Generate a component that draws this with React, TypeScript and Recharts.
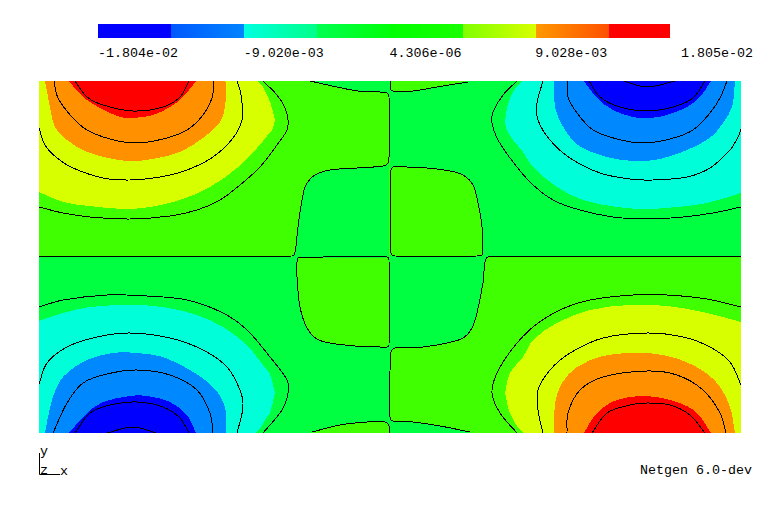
import React from "react";
import { ComposedChart, Area, Line, XAxis, YAxis } from "recharts";

type Band = number[][];

// colour bar
const barEdges = [-0.01804, -0.013521, -0.009002, -0.004483, 0.000036, 0.004556, 0.009075, 0.013594, 0.01737];
const barStart = ["#0000ff", "#0058ff", "#00ffe0", "#00ff50", "#00ff00", "#80ff00", "#ff9800", "#ff0000"];
const barEnd = ["#0000ff", "#0084ff", "#00ff88", "#00ff08", "#18ff00", "#d8ff00", "#ff5000", "#ff0000"];
const tickValues = [-0.01804, -0.00902, 0.000004306, 0.009028, 0.01805];
const tickLabels = ["-1.804e-02", "-9.020e-03", "4.306e-06", "9.028e-03", "1.805e-02"];

const LIME = "#40ff00";
const SPRING = "#00ff40";
const YELLOW = "#d8ff00";
const ORANGE = "#ff9000";
const RED = "#ff0000";
const CYAN = "#00ffd8";
const BLUE = "#0088ff";
const DEEP = "#0000ff";

// bands: [x, low, high]
const wholeField: Band = [[-351, -176, 176], [351, -176, 176]];
const limeTL: Band = [[-351, 0, 176], [0, 0, 176]];
const limeBR: Band = [[0, -176, 0], [351, -176, 0]];

const springSquareTL: Band = [[-98, 0, 1], [-95, 0, 5], [-92, 0, 30], [-88, 0, 57], [-84, 0, 72], [-75, 0, 82], [-60, 0, 87], [-33, 0, 89], [-7, 0, 91], [-2, 0, 94], [-1, 0, 94]];
const springArcTL: Band = [[-80, 176, 176], [-53, 170, 176], [-32, 166, 176], [-10, 165, 176], [-3, 164, 176], [-1, 160, 176], [0, 160, 176]];
const limeSquareTR: Band = [[1, 1, 87], [3, 1, 90], [17, 1, 90], [37, 1, 89], [60, 1, 86], [73, 1, 82], [83, 1, 72], [88, 1, 54], [92, 1, 30], [93, 1, 5]];
const limeArcTR: Band = [[1, 167, 176], [3, 166, 176], [23, 166, 176], [47, 170, 176], [78, 176, 176]];
const limeSquareBL: Band = [[-93, -20, -5], [-92, -30, -1], [-90, -50, -1], [-83, -71, -1], [-73, -82, -1], [-60, -86, -1], [-35, -89, -1], [-10, -90, -1], [-3, -90, -1], [-1, -88, -3]];
const limeArcBL: Band = [[-78, -176, -175], [-50, -176, -168], [-23, -176, -165], [-5, -176, -165], [-1, -176, -169]];
const springSquareBR: Band = [[0, -95, 0], [5, -91, 0], [33, -90, 0], [57, -86, 0], [73, -81, 0], [82, -71, 0], [87, -56, 0], [93, -26, 0], [95, -5, 0], [98, 0, 0]];
const springArcBR: Band = [[0, -176, -160], [3, -176, -164], [23, -176, -165], [50, -176, -169], [80, -176, -175]];

const yellowTL: Band = [[-351, 65, 176], [-327, 55, 176], [-300, 51, 176], [-267, 48, 176], [-240, 50, 176], [-210, 57, 176], [-180, 70, 176], [-153, 89, 176], [-133, 109, 176], [-123, 121, 162], [-118, 127, 149], [-115, 137, 137]];
const orangeTL: Band = [[-345, 176, 176], [-340, 150, 176], [-335, 130, 176], [-323, 117, 176], [-303, 105, 176], [-277, 98, 176], [-260, 96, 176], [-237, 98, 176], [-210, 105, 176], [-187, 119, 176], [-170, 135, 176], [-165, 150, 176], [-164, 164, 173]];
const redTL: Band = [[-321, 176, 176], [-307, 160, 176], [-290, 149, 176], [-270, 140, 176], [-257, 139, 176], [-237, 142, 176], [-220, 150, 176], [-207, 160, 176], [-194, 176, 176]];

const cyanTR: Band = [[115, 134, 134], [117, 127, 149], [123, 117, 165], [133, 105, 176], [143, 90, 176], [167, 70, 176], [193, 57, 176], [227, 50, 176], [257, 48, 176], [287, 50, 176], [317, 54, 176], [351, 64, 176]];
const blueTR: Band = [[164, 168, 176], [165, 150, 176], [172, 132, 176], [188, 112, 176], [217, 100, 176], [243, 96, 176], [270, 98, 176], [297, 107, 176], [320, 119, 176], [333, 134, 176], [342, 150, 176], [345, 176, 176]];
const deepTR: Band = [[194, 176, 176], [207, 159, 176], [223, 147, 176], [243, 140, 176], [260, 139, 176], [277, 142, 176], [297, 150, 176], [310, 160, 176], [321, 176, 176]];

const cyanBL: Band = [[-351, -176, -64], [-327, -176, -56], [-300, -176, -50], [-260, -176, -48], [-227, -176, -50], [-193, -176, -58], [-167, -176, -70], [-143, -176, -88], [-134, -176, -99], [-123, -160, -113], [-120, -156, -117], [-115, -136, -136]];
const blueBL: Band = [[-345, -176, -176], [-338, -176, -143], [-327, -176, -120], [-303, -176, -103], [-277, -176, -96], [-253, -176, -96], [-227, -176, -100], [-200, -176, -113], [-177, -176, -130], [-165, -176, -150], [-164, -176, -176]];
const deepBL: Band = [[-321, -176, -176], [-303, -176, -156], [-287, -176, -145], [-260, -176, -139], [-243, -176, -139], [-220, -176, -145], [-203, -176, -158], [-194, -176, -176]];

const yellowBR: Band = [[115, -136, -136], [120, -156, -116], [133, -176, -100], [143, -176, -83], [167, -176, -66], [200, -176, -53], [240, -176, -48], [277, -176, -49], [313, -176, -55], [351, -176, -65]];
const orangeBR: Band = [[164, -176, -176], [165, -176, -146], [172, -176, -126], [187, -176, -110], [213, -176, -99], [243, -176, -96], [273, -176, -98], [303, -176, -108], [327, -176, -126], [340, -176, -150], [345, -176, -176]];
const redBR: Band = [[194, -176, -176], [207, -176, -156], [227, -176, -143], [257, -176, -139], [287, -176, -145], [307, -176, -156], [321, -176, -176]];

// contour lines: [x, y]
const zeroTL = [[-351, 1], [-98, 1], [-95, 5], [-92, 30], [-88, 57], [-84, 72], [-75, 82], [-60, 87], [-33, 89], [-7, 91], [-2, 94], [-1, 100], [-1, 160], [-3, 164], [-10, 165], [-32, 166], [-53, 170], [-80, 176]];
const zeroBR = [[351, 0], [98, 0], [95, -5], [93, -26], [87, -56], [82, -71], [73, -81], [57, -86], [33, -90], [5, -91], [1, -95], [0, -160], [3, -164], [23, -165], [50, -169], [80, -175]];
const zeroSquareTR = [[1, 87], [3, 90], [17, 90], [37, 89], [60, 86], [73, 82], [83, 72], [88, 54], [92, 30], [93, 5], [92, 2], [87, 1], [5, 1], [1, 4], [1, 87]];
const zeroArcTR = [[1, 176], [1, 167], [3, 166], [23, 166], [47, 170], [78, 175]];
const zeroSquareBL = [[-93, -5], [-92, -1], [-3, 0], [-1, -3], [-1, -88], [-3, -90], [-10, -90], [-35, -89], [-60, -86], [-73, -82], [-83, -71], [-90, -50], [-93, -20], [-93, -5]];
const zeroArcBL = [[-1, -176], [-1, -169], [-5, -165], [-23, -165], [-50, -168], [-78, -175]];

const tl1 = [[-351, 50], [-327, 44], [-300, 40], [-260, 38], [-220, 41], [-193, 47], [-170, 57], [-150, 72], [-130, 90], [-113, 112], [-103, 127], [-102, 137], [-105, 149], [-113, 162], [-127, 176]];
const tl2 = [[-351, 129], [-345, 112], [-333, 99], [-317, 89], [-287, 79], [-260, 77], [-230, 80], [-203, 87], [-177, 100], [-157, 119], [-148, 137], [-148, 154], [-150, 167], [-153, 176]];
const tl3 = [[-336, 176], [-332, 159], [-318, 140], [-303, 127], [-280, 118], [-255, 114], [-227, 118], [-203, 127], [-187, 142], [-178, 159], [-176, 176]];
const tl4 = [[-315, 176], [-303, 160], [-287, 152], [-257, 146], [-227, 150], [-210, 160], [-201, 176]];

const tr1 = [[127, 176], [113, 162], [103, 145], [102, 134], [107, 119], [120, 99], [140, 75], [163, 57], [190, 47], [223, 40], [257, 38], [293, 40], [323, 44], [351, 50]];
const tr2 = [[153, 176], [147, 154], [148, 137], [160, 117], [180, 99], [210, 84], [240, 78], [263, 77], [297, 80], [320, 89], [340, 107], [348, 120], [351, 128]];
const tr3 = [[177, 176], [178, 160], [187, 144], [203, 127], [227, 118], [253, 114], [280, 118], [303, 127], [320, 144], [330, 159], [337, 176]];
const tr4 = [[199, 176], [210, 160], [230, 150], [257, 146], [283, 150], [303, 159], [315, 176]];
const tr5 = [[234, 176], [257, 170], [285, 176]];

const bl1 = [[-351, -50], [-327, -43], [-283, -38], [-243, -39], [-203, -43], [-167, -56], [-143, -73], [-120, -100], [-103, -123], [-102, -136], [-108, -153], [-127, -176]];
const bl2 = [[-351, -127], [-343, -106], [-323, -90], [-293, -80], [-260, -76], [-220, -81], [-187, -93], [-163, -110], [-150, -133], [-147, -150], [-153, -176]];
const bl3 = [[-337, -176], [-323, -146], [-307, -126], [-283, -117], [-253, -113], [-220, -118], [-193, -133], [-180, -156], [-177, -176]];
const bl4 = [[-315, -176], [-300, -156], [-280, -148], [-253, -145], [-227, -150], [-210, -161], [-201, -176]];
const bl5 = [[-283, -176], [-257, -170], [-234, -176]];

const br1 = [[127, -176], [110, -156], [102, -136], [107, -116], [123, -91], [143, -70], [170, -53], [200, -43], [243, -38], [277, -38], [317, -42], [351, -50]];
const br2 = [[153, -176], [148, -153], [148, -133], [160, -113], [180, -96], [213, -81], [257, -76], [293, -80], [320, -90], [340, -105], [351, -128]];
const br3 = [[177, -176], [178, -156], [190, -133], [213, -120], [257, -114], [287, -118], [313, -133], [330, -156], [336, -176]];
const br4 = [[202, -176], [217, -156], [240, -148], [257, -146], [280, -148], [300, -158], [315, -176]];

const bands: [Band, string][] = [
  [wholeField, SPRING],
  [limeTL, LIME],
  [limeBR, LIME],
  [springSquareTL, SPRING],
  [springArcTL, SPRING],
  [limeSquareTR, LIME],
  [limeArcTR, LIME],
  [limeSquareBL, LIME],
  [limeArcBL, LIME],
  [springSquareBR, SPRING],
  [springArcBR, SPRING],
  [yellowTL, YELLOW],
  [orangeTL, ORANGE],
  [redTL, RED],
  [cyanTR, CYAN],
  [blueTR, BLUE],
  [deepTR, DEEP],
  [cyanBL, CYAN],
  [blueBL, BLUE],
  [deepBL, DEEP],
  [yellowBR, YELLOW],
  [orangeBR, ORANGE],
  [redBR, RED],
];

const contours = [
  zeroTL, zeroBR, zeroSquareTR, zeroArcTR, zeroSquareBL, zeroArcBL,
  tl1, tl2, tl3, tl4, tr1, tr2, tr3, tr4, tr5, bl1, bl2, bl3, bl4, bl5, br1, br2, br3, br4,
];

const MONO = "'Liberation Mono', monospace";
const bandRows = (b: Band) => b.map(([x, lo, hi]) => ({ x, r: [lo, hi] }));
const lineRows = (l: number[][]) => l.map(([x, y]) => ({ x, y }));

// A curve that passes through every read point with tangents that do not overshoot at tight corners.
const contourCurve = (ctx: any) => {
  let pts: number[][] = [];
  let line: number = NaN;
  return {
    areaStart() { line = 0; },
    areaEnd() { line = NaN; },
    lineStart() { pts = []; },
    point(x: number, y: number) { pts.push([+x, +y]); },
    lineEnd() {
      if (pts.length) {
        const [fx, fy] = pts[0];
        if (line) ctx.lineTo(fx, fy); else ctx.moveTo(fx, fy);
        const tan = (i: number) => {
          const a = pts[Math.max(i - 1, 0)];
          const b = pts[Math.min(i + 1, pts.length - 1)];
          const dx = b[0] - a[0];
          const dy = b[1] - a[1];
          const len = Math.hypot(dx, dy) || 1;
          return [dx / len, dy / len];
        };
        for (let i = 0; i + 1 < pts.length; i++) {
          const p = pts[i];
          const q = pts[i + 1];
          const d = Math.hypot(q[0] - p[0], q[1] - p[1]) / 3;
          const t0 = tan(i);
          const t1 = tan(i + 1);
          ctx.bezierCurveTo(p[0] + t0[0] * d, p[1] + t0[1] * d, q[0] - t1[0] * d, q[1] - t1[1] * d, q[0], q[1]);
        }
      }
      if (line === 1) ctx.closePath();
      line = 1 - line;
    },
  };
};

const BarTick = (p: any) => (
  <text x={p.x} y={p.y + 11} fontFamily={MONO} fontSize={13.33} fill="#000" textAnchor="start">
    {tickLabels[p.index]}
  </text>
);

export default function App() {
  return (
    <div style={{ position: "absolute", left: 0, top: 0, width: 780, height: 514, background: "#fff" }}>
      <div style={{ position: "absolute", left: 0, top: 0 }}>
        <ComposedChart width={780} height={62} margin={{ top: 24, right: 99, bottom: 0, left: 98 }}>
          <defs>
            {barStart.map((c, i) => (
              <linearGradient key={i} id={`bin${i}`} x1="0" y1="0" x2="1" y2="0">
                <stop offset="0%" stopColor={c} />
                <stop offset="100%" stopColor={barEnd[i]} />
              </linearGradient>
            ))}
          </defs>
          <XAxis
            type="number"
            dataKey="x"
            domain={[-0.01804, 0.01805]}
            ticks={tickValues}
            interval={0}
            axisLine={false}
            tickLine={false}
            height={24}
            tick={BarTick}
            allowDataOverflow
          />
          <YAxis type="number" domain={[0, 1]} hide />
          {barStart.map((_, i) => (
            <Area
              key={i}
              data={[
                { x: barEdges[i], r: [0, 1] },
                { x: barEdges[i + 1], r: [0, 1] },
              ]}
              dataKey="r"
              type="linear"
              fill={`url(#bin${i})`}
              fillOpacity={1}
              stroke="none"
              dot={false}
              activeDot={false}
              isAnimationActive={false}
            />
          ))}
        </ComposedChart>
      </div>
      <div style={{ position: "absolute", left: 0, top: 0 }}>
        <ComposedChart width={780} height={514} margin={{ top: 81, right: 39, bottom: 81, left: 39 }}>
          <XAxis type="number" dataKey="x" domain={[-351, 351]} hide allowDataOverflow />
          <YAxis type="number" domain={[-176, 176]} hide allowDataOverflow />
          {bands.map(([b, c], i) => (
            <Area
              key={i}
              data={bandRows(b)}
              dataKey="r"
              type={b.length > 2 ? (contourCurve as any) : "linear"}
              fill={c}
              fillOpacity={1}
              stroke="none"
              dot={false}
              activeDot={false}
              shapeRendering="crispEdges"
              isAnimationActive={false}
            />
          ))}
          {contours.map((l, i) => (
            <Line
              key={i}
              data={lineRows(l)}
              dataKey="y"
              type={contourCurve as any}
              stroke="#000"
              strokeWidth={1}
              dot={false}
              activeDot={false}
              legendType="none"
              shapeRendering="crispEdges"
              isAnimationActive={false}
            />
          ))}
          <g fontFamily={MONO} fontSize={13.33} fill="#000">
            <text x={40} y={455}>y</text>
            <text x={40} y={474}>z</text>
            <text x={60} y={475}>x</text>
            <text x={640} y={474}>Netgen 6.0-dev</text>
            <path d="M39.5 453V474.5H60" fill="none" stroke="#000" strokeWidth={1} />
          </g>
        </ComposedChart>
      </div>
    </div>
  );
}
